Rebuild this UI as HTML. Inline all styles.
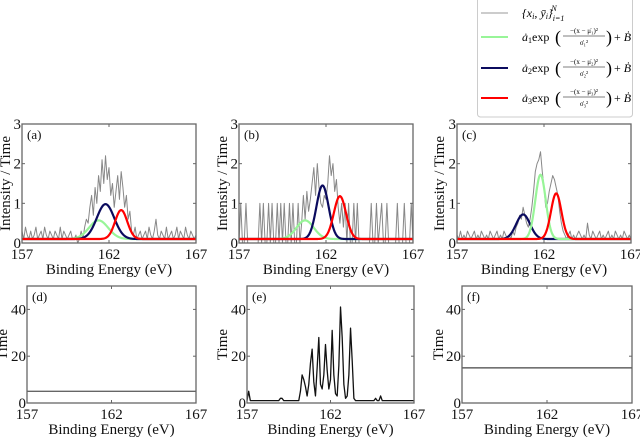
<!DOCTYPE html>
<html><head><meta charset="utf-8"><style>
html,body{margin:0;padding:0;background:#fff;}
svg{display:block;}
svg text{font-family:"Liberation Serif","DejaVu Serif",serif;}
</style></head><body>
<svg id="fig" width="640" height="437" viewBox="0 0 640 437" xmlns="http://www.w3.org/2000/svg" font-family="Liberation Serif, serif">
<g id="legend" font-family="Liberation Serif, serif">
<rect x="477.5" y="-3" width="155" height="120" rx="3" fill="#fff" stroke="#ccc" stroke-width="1"/>
<g>
<line x1="481" y1="13" x2="508" y2="13" stroke="#999" stroke-width="1"/>
<text x="522" y="17" font-size="12" font-style="italic">{x<tspan font-size="8" dy="2">i</tspan><tspan dy="-2">, ȳ</tspan><tspan font-size="8" dy="2">i</tspan><tspan dy="-2">}</tspan><tspan font-size="8" dy="4">i=1</tspan><tspan font-size="8" dx="-13" dy="-10">N</tspan></text>
</g>
<g>
<line x1="481" y1="37" x2="508" y2="37" stroke="#98f598" stroke-width="2"/>
<text x="522" y="41" font-size="12"><tspan font-style="italic">ȧ</tspan><tspan font-size="8" dy="2">1</tspan><tspan dy="-2">exp</tspan></text>
<text x="555" y="43" font-size="18">(</text>
<text x="584" y="33" font-size="7" text-anchor="middle">−(x − μ̇₁)²</text>
<line x1="563" y1="36" x2="605" y2="36" stroke="#000" stroke-width="0.6"/>
<text x="584" y="45" font-size="7" text-anchor="middle">σ̇₁²</text>
<text x="606" y="43" font-size="18">)</text>
<text x="614" y="41" font-size="12">+ <tspan font-style="italic">Ḃ</tspan></text>
</g>
<g>
<line x1="481" y1="68" x2="508" y2="68" stroke="#0b0b5e" stroke-width="2"/>
<text x="522" y="72" font-size="12"><tspan font-style="italic">ȧ</tspan><tspan font-size="8" dy="2">2</tspan><tspan dy="-2">exp</tspan></text>
<text x="555" y="74" font-size="18">(</text>
<text x="584" y="64" font-size="7" text-anchor="middle">−(x − μ̇₂)²</text>
<line x1="563" y1="67" x2="605" y2="67" stroke="#000" stroke-width="0.6"/>
<text x="584" y="76" font-size="7" text-anchor="middle">σ̇₂²</text>
<text x="606" y="74" font-size="18">)</text>
<text x="614" y="72" font-size="12">+ <tspan font-style="italic">Ḃ</tspan></text>
</g>
<g>
<line x1="481" y1="98" x2="508" y2="98" stroke="#ff0000" stroke-width="2"/>
<text x="522" y="102" font-size="12"><tspan font-style="italic">ȧ</tspan><tspan font-size="8" dy="2">3</tspan><tspan dy="-2">exp</tspan></text>
<text x="555" y="104" font-size="18">(</text>
<text x="584" y="94" font-size="7" text-anchor="middle">−(x − μ̇₃)²</text>
<line x1="563" y1="97" x2="605" y2="97" stroke="#000" stroke-width="0.6"/>
<text x="584" y="106" font-size="7" text-anchor="middle">σ̇₃²</text>
<text x="606" y="104" font-size="18">)</text>
<text x="614" y="102" font-size="12">+ <tspan font-style="italic">Ḃ</tspan></text>
</g>
</g>
</svg>
<script>
// ---- data ----
const xStart = 157, xStep = 0.1;
const xTicks = [157, 162, 167];
const yTicksTop = [0, 1, 2, 3];
const yTicksBottom = [0, 20, 40];
const spectrumA = [0.3,0.1,0.4,0.2,0.1,0.3,0.1,0.2,0.4,0.1,0.2,0.3,0.1,0.4,0.2,0.1,0.3,0.2,0.1,0.3,0.2,0.1,0.4,0.1,0.3,0.2,0.1,0.2,0.3,0.1,
0.1,0.2,0.0,0.1,0.3,0.1,0.4,0.6,0.5,0.9,
1.2,0.7,1.4,1.0,1.7,1.3,2.1,1.5,2.2,1.6,
1.9,1.2,1.5,0.9,1.3,1.7,1.1,1.8,1.4,0.9,
1.2,0.6,0.8,0.3,0.2,0.4,0.1,0.2,0.3,0.1,
0.2,0.3,0.1,0.4,0.2,0.1,0.3,0.6,0.2,0.1,
0.3,0.2,0.1,0.4,0.1,0.2,0.3,0.1,0.2,0.4,
0.1,0.3,0.2,0.1,0.4,0.2,0.1,0.3,0.2,0.1,0.2];
const spectrumB = [0,1,0,0,1,0,0,0,0,0,0,0,1,0,1,0,0,1,0,1,0,0,1,0,1,0,1,0,0,1,
0,1,0,0,1,0,0.5,1.2,0.6,1.3,
0.8,1.1,1.5,1.9,1.2,2.0,1.4,1.0,0.9,1.2,
1.1,1.5,2.2,1.7,2.0,1.3,1.6,0.9,0.5,1.0,
0.4,1,0,1,0,0,1,0,1,0,
0,0,0,0,0,0,1,0,0,1,
0,0.5,1,0,0,1,0,0,0,0,
0,1,0,0,0,1,0,0,0,1,0];
const spectrumC = [0.2,0.1,0.3,0.1,0.2,0.1,0.3,0.2,0.1,0.2,0.3,0.1,0.2,0.1,0.3,0.2,0.1,0.2,0.1,0.3,0.2,0.1,0.2,0.3,0.1,0.2,0.1,0.3,0.2,0.1,
0.2,0.1,0.3,0.2,0.4,0.5,0.7,0.6,0.9,0.7,
0.5,0.4,0.6,0.9,1.3,1.8,2.0,2.1,2.3,1.8,
1.4,0.9,1.0,1.3,1.5,1.7,1.6,1.4,1.2,0.8,
0.5,0.3,0.2,0.1,0.2,0.3,0.1,0.2,0.1,0.2,
0.3,0.2,0.1,0.2,0.1,0.5,0.2,0.1,0.3,0.2,
0.1,0.2,0.3,0.1,0.2,0.1,0.2,0.3,0.1,0.2,
0.1,0.3,0.2,0.1,0.2,0.1,0.3,0.2,0.1,0.2,0.1];
const timeE = [1,5,1,1,1,1,1,1,1,1,1,1,1,1,1,1,1,1,1,1,2,2,1,1,1,1,1,1,1,1,
1,1,5,12,10,7,3,8,17,23,
9,3,15,28,8,6,12,25,14,6,
10,31,12,4,3,16,41,28,8,2,
3,12,32,18,2,1,1,1,1,1,
1,1,1,1,1,1,1,2,1,1,
3,1,1,1,1,1,1,1,1,1,
1,1,1,1,1,1,1,1,1,1,1];
const timeD = [5, 5];
const timeF = [15, 15];
// gaussian fits: [amplitude, mean, sigma]
const baseB = [0.1, 0.1, 0.1];
const fitA_green = [0.47, 161.4, 0.55], fitA_navy = [0.88, 161.8, 0.5], fitA_red = [0.73, 162.7, 0.35];
const fitB_green = [0.47, 160.8, 0.5], fitB_navy = [1.35, 161.8, 0.35], fitB_red = [1.08, 162.8, 0.35];
const fitC_green = [1.62, 161.8, 0.3], fitC_navy = [0.62, 160.8, 0.4], fitC_red = [1.15, 162.7, 0.3];

const NS = "http://www.w3.org/2000/svg";
const FONT = "Liberation Serif, DejaVu Serif, serif";
const svg = document.getElementById('fig');
function mk(tag, attrs, parent){ const e=document.createElementNS(NS,tag); for(const k in attrs) e.setAttribute(k,attrs[k]); if(tag==='text') e.setAttribute('font-family',FONT); (parent||svg).appendChild(e); return e; }

function panel(id, L, R, T, B, ymax, yticks, ylabel, ylx, label){
  const g = mk('g', {});
  
  
  const sx = v => L + (v - 157) / 10 * (R - L);
  const sy = v => B - v / ymax * (B - T);
  const clip = mk('clipPath', {id:'clip'+id}, g);
  mk('rect', {x:L, y:T, width:R-L+1, height:B-T+1}, clip);
  const plot = mk('g', {'clip-path':'url(#clip'+id+')'}, g);
  xTicks.forEach(t => {
    const x = sx(t);
    mk('line',{x1:x,y1:B,x2:x,y2:B-3,stroke:'#666','stroke-width':1},g);
    mk('line',{x1:x,y1:T,x2:x,y2:T+3,stroke:'#666','stroke-width':1},g);
    const tl = mk('text',{x:x,y:B+16,'font-size':15,'text-anchor':'middle',fill:'#111'},g);
    tl.textContent = t;
    
    
  });
  yticks.forEach(t => {
    const y = sy(t);
    mk('line',{x1:L,y1:y,x2:L+3,y2:y,stroke:'#666','stroke-width':1},g);
    mk('line',{x1:R,y1:y,x2:R-3,y2:y,stroke:'#666','stroke-width':1},g);
    const tl = mk('text',{x:L-1,y:y+5,'font-size':15,'text-anchor':'end',fill:'#111'},g);
    tl.textContent = t;
    
    
  });
  const xl = mk('text',{x:(L+R)/2,y:B+31,'font-size':15,'text-anchor':'middle',fill:'#111'},g);
  xl.textContent = 'Binding Energy (eV)';
  
  
  const yc = (T+B)/2;
  const yl = mk('text',{x:ylx,y:yc,'font-size':15,'text-anchor':'middle',fill:'#111',transform:'rotate(-90 '+ylx+' '+yc+')'},g);
  yl.textContent = ylabel;
  
  
  const pl = mk('text',{x:L+5,y:T+15,'font-size':13,fill:'#111'},g);
  pl.textContent = label;
  
  
  return {g, plot, sx, sy, L, R, T, B};
}
function series(p, arr, step, color, w, name){
  const pts = arr.map((v,i) => p.sx(xStart + i*step).toFixed(2) + ',' + p.sy(v).toFixed(2)).join(' ');
  const e = mk('polyline',{points:pts,fill:'none',stroke:color,'stroke-width':w,'stroke-linejoin':'round'},p.plot);
  
  
}
function gauss(p, prm, b, color, name){
  const pts=[];
  for(let i=0;i<=400;i++){ const x=157+i*0.025; const v=prm[0]*Math.exp(-Math.pow(x-prm[1],2)/(2*prm[2]*prm[2]))+b; pts.push(p.sx(x).toFixed(2)+','+p.sy(v).toFixed(2)); }
  const e = mk('polyline',{points:pts.join(' '),fill:'none',stroke:color,'stroke-width':2.2},p.plot);
  
  
}
function frame(p){ mk('rect',{x:p.L,y:p.T,width:p.R-p.L,height:p.B-p.T,fill:'none',stroke:'#666','stroke-width':1.3},p.g); }

const GREEN='#98f598', NAVY='#0b0b5e', RED='#ff0000';
const pa = panel('a',22,196,124,243,3,yTicksTop,'Intensity / Time',10,'(a)');
series(pa, spectrumA, xStep, '#888', 1, 'spectrum-a');
gauss(pa, fitA_green, baseB[0], GREEN, 'fit-green-a'); gauss(pa, fitA_navy, baseB[0], NAVY, 'fit-navy-a'); gauss(pa, fitA_red, baseB[0], RED, 'fit-red-a'); frame(pa);
const pb = panel('b',239,413,124,243,3,yTicksTop,'Intensity / Time',227,'(b)');
series(pb, spectrumB, xStep, '#888', 1, 'spectrum-b');
gauss(pb, fitB_green, baseB[1], GREEN, 'fit-green-b'); gauss(pb, fitB_navy, baseB[1], NAVY, 'fit-navy-b'); gauss(pb, fitB_red, baseB[1], RED, 'fit-red-b'); frame(pb);
const pc = panel('c',457,631,124,243,3,yTicksTop,'Intensity / Time',444,'(c)');
series(pc, spectrumC, xStep, '#888', 1, 'spectrum-c');
gauss(pc, fitC_navy, baseB[2], NAVY, 'fit-navy-c'); gauss(pc, fitC_green, baseB[2], GREEN, 'fit-green-c'); gauss(pc, fitC_red, baseB[2], RED, 'fit-red-c'); frame(pc);
const pd = panel('d',27,196,286,403,50,yTicksBottom,'Time',7,'(d)');
series(pd, timeD, 10, '#666', 1.3, 'time-d'); frame(pd);
const pe = panel('e',247,414,286,403,50,yTicksBottom,'Time',227,'(e)');
series(pe, timeE, xStep, '#111', 1.3, 'time-e'); frame(pe);
const pf = panel('f',462,632,286,403,50,yTicksBottom,'Time',443,'(f)');
series(pf, timeF, 10, '#444', 1.3, 'time-f'); frame(pf);
svg.appendChild(document.getElementById('legend'));
</script>
</body></html>
